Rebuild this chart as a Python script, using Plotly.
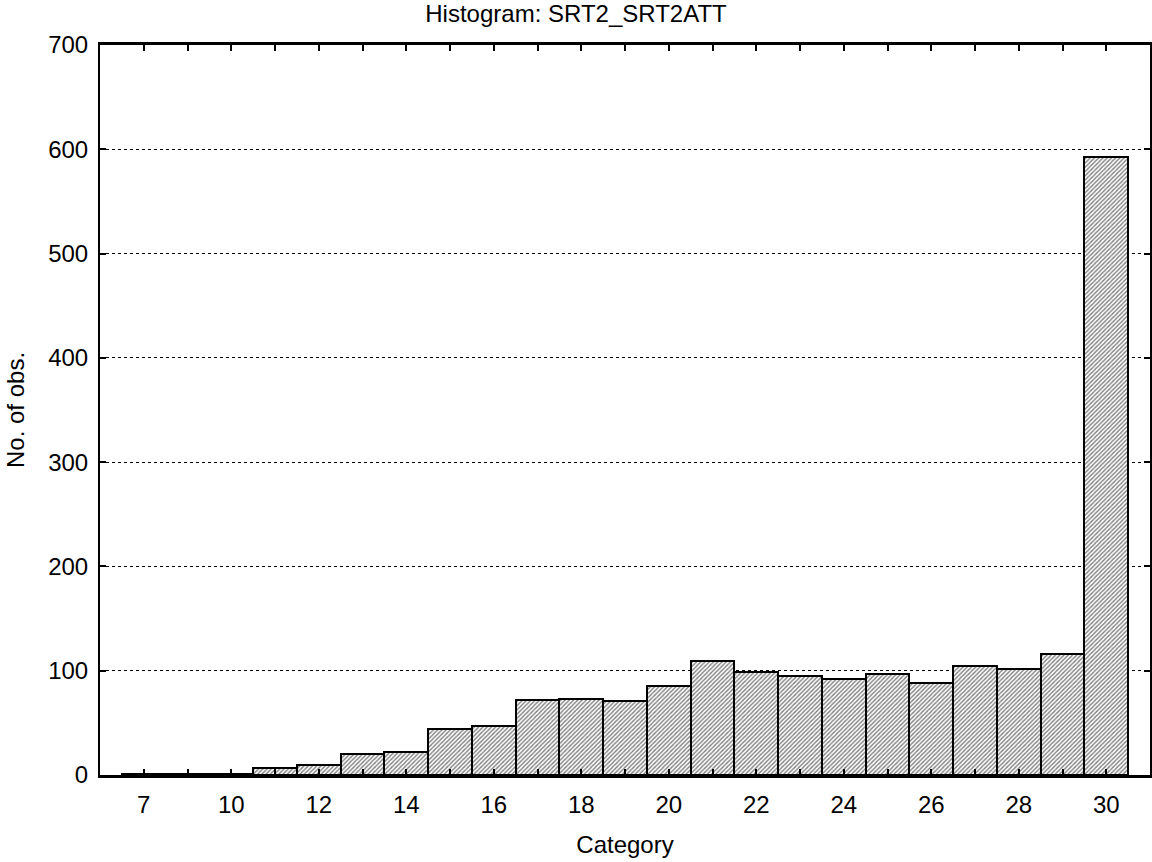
import plotly.graph_objects as go

categories = ["7", "8", "10", "11", "12", "13", "14", "15", "16", "17", "18", "19",
              "20", "21", "22", "23", "24", "25", "26", "27", "28", "29", "30"]
counts = [1, 1, 1, 7, 10, 20, 22, 44, 47, 72, 73, 71,
          85, 109, 99, 95, 92, 97, 88, 105, 102, 116, 593]
tick_text = [c if i % 2 == 0 else "" for i, c in enumerate(categories)]
y_ticks = [0, 100, 200, 300, 400, 500, 600, 700]

FONT = "Liberation Sans, Arial, sans-serif"
FS = 24

fig = go.Figure(go.Bar(
    x=categories, y=counts,
    marker=dict(
        color="white",
        line=dict(color="black", width=2),
        pattern=dict(shape="/", fgcolor="black", bgcolor="white", size=3, solidity=0.45),
    ),
))

fig.update_layout(
    width=1152, height=862,
    margin=dict(l=100, r=0, t=45, b=87),
    paper_bgcolor="white", plot_bgcolor="white",
    bargap=0,
    showlegend=False,
    font=dict(family=FONT, size=FS, color="black"),
    title=dict(text="Histogram: SRT2_SRT2ATT", x=0.5, xref="container", xanchor="center",
               y=0.984, yref="container", yanchor="middle",
               font=dict(family=FONT, size=FS, color="black")),
)

fig.update_xaxes(
    type="category", range=[-1, 23],
    tickmode="array", tickvals=categories, ticktext=tick_text,
    ticks="inside", ticklen=6, tickwidth=1.5, tickcolor="black",
    showline=True, linecolor="black", linewidth=2.5, mirror="ticks",
    showgrid=False, zeroline=False,
    ticklabelstandoff=6,
    title=dict(text="Category", standoff=20, font=dict(family=FONT, size=FS)),
    tickfont=dict(family=FONT, size=FS),
)

fig.update_yaxes(
    range=[0, 700],
    tickmode="array", tickvals=y_ticks,
    ticks="inside", ticklen=6, tickwidth=1.5, tickcolor="black",
    showline=True, linecolor="black", linewidth=2, mirror="ticks",
    showgrid=True, gridcolor="black", gridwidth=0.6, griddash="dot",
    zeroline=False,
    ticklabelstandoff=5,
    title=dict(text="No. of obs.", standoff=17, font=dict(family=FONT, size=FS)),
    tickfont=dict(family=FONT, size=FS),
)

fig.write_html("out.html")
